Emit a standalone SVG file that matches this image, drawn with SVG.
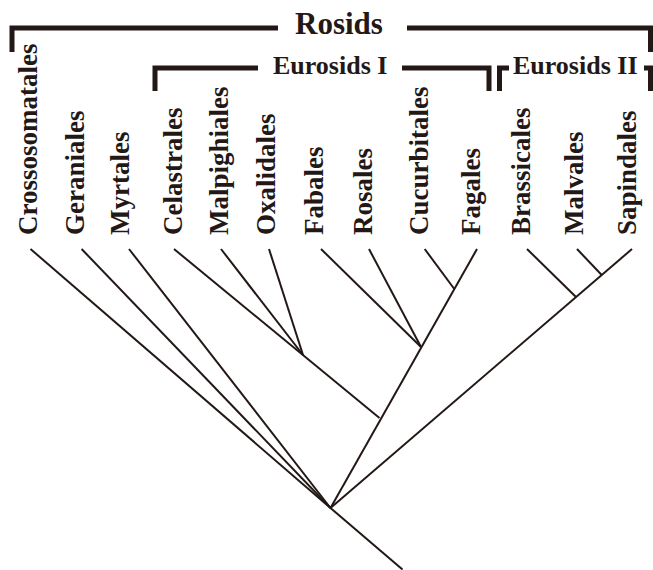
<svg xmlns="http://www.w3.org/2000/svg" width="653" height="570" viewBox="0 0 653 570">
<style>
.lbl{font-family:"Liberation Serif","Times New Roman",serif;font-weight:bold;font-size:27px;fill:#231815}
.grp{font-family:"Liberation Serif","Times New Roman",serif;font-weight:bold;fill:#231815}
.br{fill:none;stroke:#231815;stroke-width:5;stroke-linejoin:miter;stroke-linecap:butt}
.edge{fill:none;stroke:#231815;stroke-width:2;stroke-linecap:butt}
</style>
<rect width="653" height="570" fill="#ffffff"/>
<g id="bracket-rosids">
<path class="br" d="M278 28 H12 V52"/>
<path class="br" d="M407 28 H650.5 V52"/>
<text class="grp" x="295" y="34" font-size="31">Rosids</text>
</g>
<g id="bracket-eurosids1">
<path class="br" d="M258 68 H155 V91"/>
<path class="br" d="M402 68 H489 V91"/>
<text class="grp" x="273" y="74" font-size="26">Eurosids I</text>
</g>
<g id="bracket-eurosids2">
<path class="br" d="M509 68 H499.5 V91"/>
<path class="br" d="M644 68 H650.5 V91"/>
<text class="grp" x="513" y="74" font-size="26">Eurosids II</text>
</g>
<g id="node-crossosomatales"><text class="lbl" transform="translate(37,235) rotate(-90)">Crossosomatales</text></g>
<g id="node-geraniales"><text class="lbl" transform="translate(84,235) rotate(-90)">Geraniales</text></g>
<g id="node-myrtales"><text class="lbl" transform="translate(129,235) rotate(-90)">Myrtales</text></g>
<g id="node-celastrales"><text class="lbl" transform="translate(182,235) rotate(-90)">Celastrales</text></g>
<g id="node-malpighiales"><text class="lbl" transform="translate(228,235) rotate(-90)">Malpighiales</text></g>
<g id="node-oxalidales"><text class="lbl" transform="translate(275,235) rotate(-90)">Oxalidales</text></g>
<g id="node-fabales"><text class="lbl" transform="translate(323,235) rotate(-90)">Fabales</text></g>
<g id="node-rosales"><text class="lbl" transform="translate(372,235) rotate(-90)">Rosales</text></g>
<g id="node-cucurbitales"><text class="lbl" transform="translate(428,235) rotate(-90)">Cucurbitales</text></g>
<g id="node-fagales"><text class="lbl" transform="translate(480,235) rotate(-90)">Fagales</text></g>
<g id="node-brassicales"><text class="lbl" transform="translate(530,235) rotate(-90)">Brassicales</text></g>
<g id="node-malvales"><text class="lbl" transform="translate(583,235) rotate(-90)">Malvales</text></g>
<g id="node-sapindales"><text class="lbl" transform="translate(636,235) rotate(-90)">Sapindales</text></g>
<g id="connectors">
<path class="edge" d="M330.5 508 L402.5 569.5"/>
<path class="edge" d="M30.5 249 L330.5 508"/>
<path class="edge" d="M81.6 249 L330.5 508"/>
<path class="edge" d="M129 249 L330.5 508"/>
<path class="edge" d="M477 249 L330.5 508"/>
<path class="edge" d="M632 249 L330.5 508"/>
<path class="edge" d="M174 249 L379.5 418"/>
<path class="edge" d="M221 249 L303 355"/>
<path class="edge" d="M269 249 L303 355"/>
<path class="edge" d="M321 249 L421 347"/>
<path class="edge" d="M369 249 L421 347"/>
<path class="edge" d="M424.7 249 L454.3 289"/>
<path class="edge" d="M527 249 L576 297"/>
<path class="edge" d="M577 249 L601.7 275"/>
</g>
</svg>
